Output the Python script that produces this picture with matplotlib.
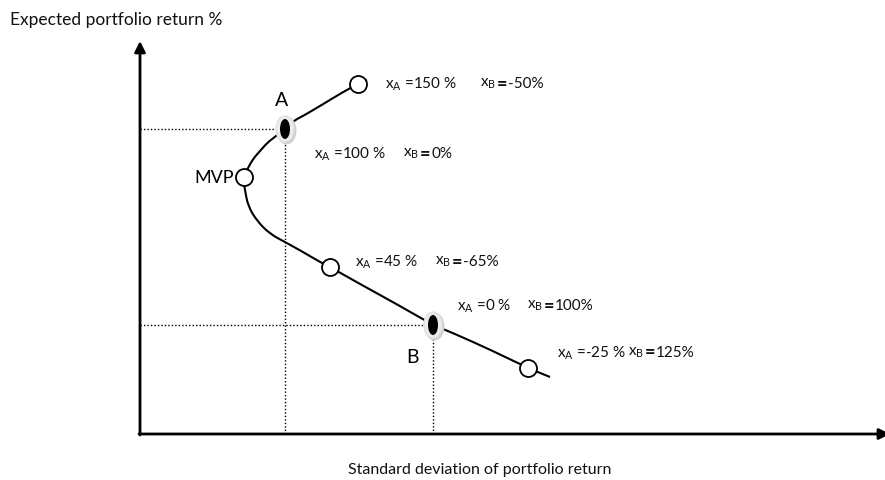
import matplotlib
matplotlib.use("Agg")
import matplotlib.pyplot as plt
from matplotlib.patches import Ellipse, PathPatch
from matplotlib.path import Path

plt.rcParams["font.family"] = ["Lato", "DejaVu Sans"]
plt.rcParams["mathtext.fontset"] = "custom"
plt.rcParams["mathtext.rm"] = "Lato"
plt.rcParams["mathtext.it"] = "Lato"
plt.rcParams["mathtext.bf"] = "Lato:bold"

# frontier (sigma, expected return), arbitrary units
curve_sigma = [227, 218, 203, 180, 163, 155, 145, 135, 128, 120, 113, 108, 104,
               104, 105, 108, 117, 130, 145, 163, 180, 190, 220, 260, 293, 313,
               353, 388, 410]
curve_ret = [354, 350, 342, 328, 318, 314, 306, 297, 292, 283, 275, 266, 258,
             250, 244, 228, 213, 200, 192, 182, 172, 167, 150, 128, 109, 101,
             83, 66, 57]

# open portfolios on the frontier
open_sigma = [218, 104, 190, 388]
open_ret = [350, 257, 167, 66]

# assets A and B
asset_names = ["A", "B"]
asset_sigma = [145, 293]
asset_ret = [305, 109]

# weight labels
w_a = ["150 %", "100 %", "45 %", "0 %", "-25 %"]
w_b = ["-50%", "0%", "-65%", "100%", "125%"]
lab_sigma = [245, 174, 215, 317, 417]
lab_ret = [351, 281, 173, 129, 82]
lab_gap = [95, 89, 80, 70, 71]

fig = plt.figure(figsize=(8.85, 4.81), dpi=100)
ax = fig.add_axes([0, 0, 1, 1])
ax.set_xlim(-140, 745)
ax.set_ylim(-46, 435)
ax.axis("off")

# axes with arrows
ax.annotate("", xy=(0, 393), xytext=(0, -1), annotation_clip=False,
            arrowprops=dict(arrowstyle="-|>", lw=2, color="black",
                            mutation_scale=16, shrinkA=0, shrinkB=0))
ax.annotate("", xy=(750, 0), xytext=(-1, 0), annotation_clip=False,
            arrowprops=dict(arrowstyle="-|>", lw=2, color="black",
                            mutation_scale=16, shrinkA=0, shrinkB=0))

# dotted guides to the assets
for s, r in zip(asset_sigma, asset_ret):
    ax.plot([0, s], [r, r], color="black", lw=1, ls=(0, (1, 1.5)))
    ax.plot([s, s], [0, r], color="black", lw=1, ls=(0, (1, 1.5)))

# smooth frontier: read points used as quadratic bezier controls
pts = list(zip(curve_sigma, curve_ret))
verts = [pts[0]]
codes = [Path.MOVETO]
for i in range(1, len(pts) - 1):
    mid = ((pts[i][0] + pts[i + 1][0]) / 2, (pts[i][1] + pts[i + 1][1]) / 2)
    verts += [pts[i], mid]
    codes += [Path.CURVE3, Path.CURVE3]
verts.append(pts[-1])
codes.append(Path.LINETO)
ax.add_patch(PathPatch(Path(verts, codes), facecolor="none", edgecolor="black",
                       lw=1.5, zorder=3))

ax.scatter(open_sigma, open_ret, s=150, facecolor="white", edgecolor="black",
           linewidth=1.3, zorder=4)

for s, r in zip(asset_sigma, asset_ret):
    ax.add_patch(Ellipse((s + 1.5, r - 1.5), 20, 28, facecolor="#cfcfcf",
                         edgecolor="none", zorder=4))
    ax.add_patch(Ellipse((s, r), 18, 26, facecolor="#ececec",
                         edgecolor="#e0e0e0", lw=1, zorder=4))
    ax.add_patch(Ellipse((s, r), 10, 20, facecolor="black", zorder=5))

ax.text(142, 334, "A", fontsize=14, ha="center", va="center")
ax.text(273, 77, "B", fontsize=14, ha="center", va="center")
ax.text(94, 257, "MVP", fontsize=13, ha="right", va="center")

for a, b, s, r, g in zip(w_a, w_b, lab_sigma, lab_ret, lab_gap):
    ax.text(s, r, "x$_\\mathregular{A}$ =" + a, fontsize=11, ha="left",
            va="center", color="#111111")
    ax.text(s + g, r, "x$_\\mathregular{B}$", fontsize=11, ha="left",
            va="center", color="#111111")
    ax.text(s + g + 17, r, "=", fontsize=13, fontweight="bold", ha="left",
            va="center", color="#111111")
    ax.text(s + g + 28, r, b, fontsize=11, ha="left", va="center",
            color="#111111")

ax.text(-130, 415, "Expected portfolio return %", fontsize=12.5, ha="left",
        va="center", color="#111111")
ax.text(208, -35, "Standard deviation of portfolio return", fontsize=11.5,
        ha="left", va="center", color="#111111")

fig.savefig("out.png", dpi=100)
